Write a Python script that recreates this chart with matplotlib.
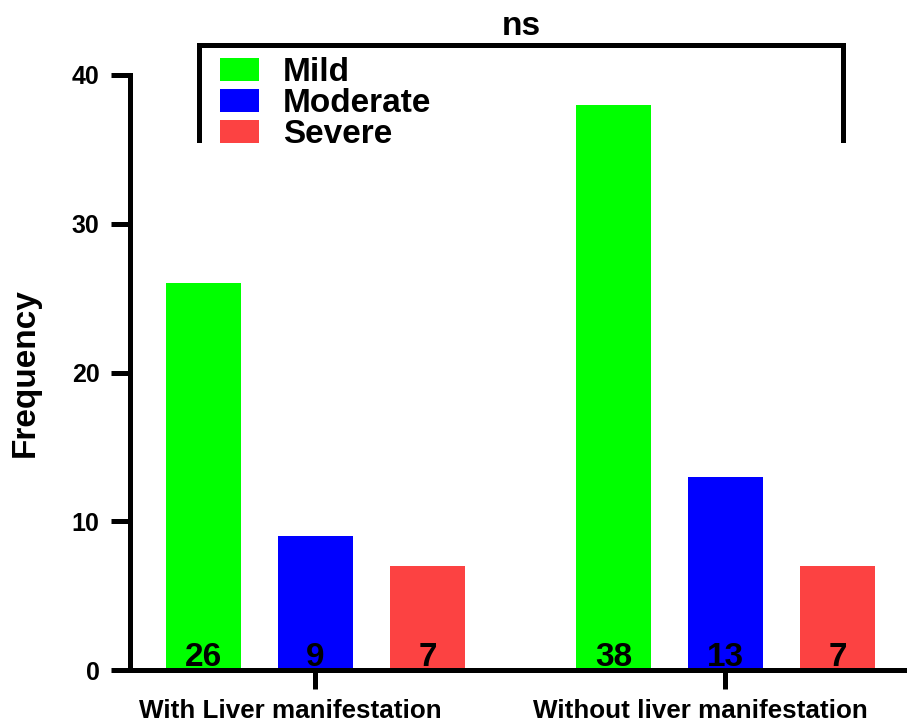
import numpy as np
import matplotlib
matplotlib.use("Agg")
import matplotlib.pyplot as plt

plt.rcParams['font.family'] = ['Liberation Sans', 'DejaVu Sans']
plt.rcParams['font.weight'] = 'bold'

groups = ["With Liver manifestation", "Without liver manifestation"]
severity = ["Mild", "Moderate", "Severe"]
colors = ["#00FF00", "#0000FF", "#FC4242"]
mild = [26, 38]
moderate = [9, 13]
severe = [7, 7]
yticks = [0, 10, 20, 30, 40]
sig_label = "ns"

series = [mild, moderate, severe]
group_pos = np.array([0.0, 3.66])
offsets = [-1.0, 0.0, 1.0]
bar_w = 0.67

fig = plt.figure(figsize=(9.07, 7.21), dpi=100)
ax = fig.add_axes([130 / 907, 1 - 670 / 721, 1 - 130 / 907, (670 - 75) / 721])

for vals, off, col, name in zip(series, offsets, colors, severity):
    xs = group_pos + off
    ax.bar(xs, vals, width=bar_w, color=col, label=name, zorder=2)
    for x, v in zip(xs, vals):
        ax.annotate(str(v), (x, 0), xytext=(0, 3), textcoords="offset points",
                    ha="center", va="baseline", fontsize=24, fontweight="bold",
                    zorder=3)

ax.set_xlim(-1.656, 5.281)
ax.set_ylim(0, 40)
ax.set_yticks(yticks)
ax.set_xticks(group_pos)
ax.set_xticklabels([])
ax.tick_params(axis="y", labelsize=18, length=14, width=3.6, pad=8)
ax.tick_params(axis="x", length=14, width=3.6)
for lab in ax.get_yticklabels():
    lab.set_fontweight("bold")

# group names sit slightly left of their ticks
for x, name in zip(group_pos, groups):
    ax.annotate(name, (x, 0), xycoords=("data", "axes fraction"),
                xytext=(-18, -34.5), textcoords="offset points",
                ha="center", va="baseline", fontsize=18.7, fontweight="bold",
                annotation_clip=False)

for side in ("top", "right"):
    ax.spines[side].set_visible(False)
for side in ("left", "bottom"):
    ax.spines[side].set_linewidth(3.6)
ax.spines["left"].set_bounds(0, 40)

ax.set_ylabel("Frequency", fontsize=24, fontweight="bold", labelpad=22)

# significance bracket spanning both groups
bx0, bx1 = group_pos[0] - 1.036, group_pos[1] + 1.05
by_top, by_low = 42.05, 35.63
ax.plot([bx0, bx0, bx1, bx1], [by_low, by_top, by_top, by_low], color="black",
        lw=3.6, clip_on=False, solid_joinstyle="miter", zorder=4)
ax.text((bx0 + bx1) / 2, 42.7, sig_label, ha="center", va="baseline",
        fontsize=24, fontweight="bold")

leg = ax.legend(loc="upper left", bbox_to_anchor=((220 - 130) / 777, 1.0 + (75 - 57) / 595),
                frameon=False, fontsize=24, handlelength=1.18, handleheight=0.7,
                labelspacing=0.0, handletextpad=0.7, borderpad=0, borderaxespad=0)
for t in leg.get_texts():
    t.set_fontweight("bold")

fig.savefig("out.png", dpi=100)
